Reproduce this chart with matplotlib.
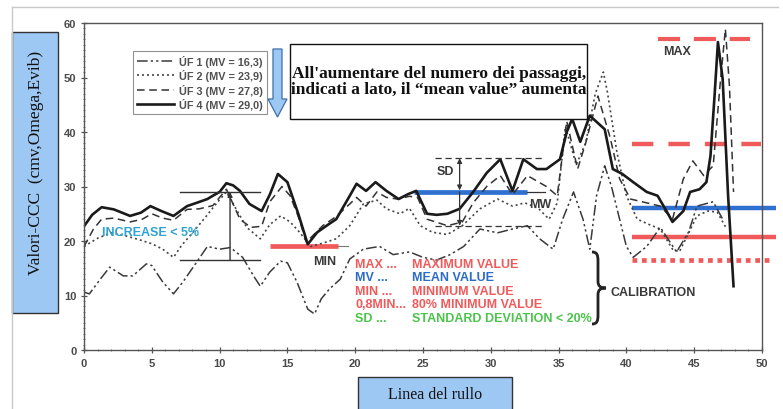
import matplotlib
matplotlib.use("Agg")
import matplotlib.pyplot as plt
import matplotlib.patches as mpatches
from matplotlib.path import Path
from matplotlib.lines import Line2D
from matplotlib.ticker import MultipleLocator

# ---------------- data ----------------
uf4_x = [0, 0.6, 1.3, 2.2, 3.4, 4.2, 4.9, 5.7, 6.6, 7.6, 8.3, 9.1, 9.5, 10.0, 10.5, 11.0, 11.5, 12.2,
         13.1, 13.7, 14.3, 15.0, 15.8, 16.5, 17.2, 18.0, 18.6, 19.6, 20.1, 20.8, 21.5, 22.3, 23.2, 23.9,
         24.5, 25.3, 26.0, 26.8, 27.7, 28.7, 29.7, 30.7, 31.6, 32.4, 33.4, 34.1, 35.1, 35.6, 36.0, 36.6,
         37.3, 38.4, 39.0, 39.7, 40.5, 41.5, 42.3, 43.0, 43.4, 44.2, 44.7, 45.4, 45.9, 46.2, 46.5, 46.75,
         47.1, 47.5, 47.9]
uf4_y = [22.7, 24.8, 26.2, 25.8, 24.6, 25.2, 26.4, 25.5, 24.6, 26.4, 27.0, 27.7, 28.3, 29.0, 30.6, 30.2,
         29.2, 26.8, 25.5, 28.5, 32.3, 30.8, 25.0, 19.4, 21.6, 23.0, 24.0, 28.3, 30.5, 29.2, 30.8, 29.2,
         27.7, 28.6, 29.2, 25.0, 24.8, 25.0, 25.9, 29.0, 32.5, 35.0, 29.2, 35.0, 33.2, 33.2, 35.0, 40.0,
         42.4, 38.2, 43.0, 40.5, 33.2, 32.3, 30.8, 29.0, 28.3, 25.3, 23.5, 25.5, 29.0, 29.5, 30.8, 35.6,
         46.6, 56.5, 49.7, 28.3, 11.7]

uf3_x = [0, 0.7, 1.3, 2.2, 3.4, 4.3, 5.0, 5.8, 6.6, 7.6, 8.5, 9.5, 10.5, 11.5, 12.3, 13.1, 13.7, 14.6,
         15.2, 15.8, 16.4, 17.6, 18.6, 19.6, 20.1, 20.8, 21.6, 22.3, 23.1, 24.0, 24.6, 25.3, 26.8, 27.9,
         28.7, 29.7, 30.7, 31.6, 32.7, 34.1, 34.9, 35.6, 36.4, 37.0, 37.9, 38.8, 39.5, 40.3, 41.5, 42.5,
         43.4, 44.2, 44.9, 45.7, 46.4, 46.9, 47.3, 47.6, 47.9]
uf3_y = [19.0, 22.2, 24.0, 24.2, 23.5, 24.0, 25.0, 24.2, 23.8, 25.8, 25.9, 26.5, 29.5, 24.0, 22.5, 22.7,
         27.2, 30.0, 28.3, 24.5, 19.8, 22.8, 24.5, 26.8, 28.0, 26.4, 29.0, 28.0, 27.7, 28.2, 28.0, 24.0,
         22.8, 23.5, 27.0, 30.0, 32.0, 28.5, 32.0, 30.0, 28.3, 42.0, 33.2, 38.0, 46.6, 39.0, 31.4, 27.7,
         27.0, 26.4, 24.0, 31.4, 34.7, 32.0, 33.8, 48.4, 58.9, 48.4, 29.0]

uf2_x = [0, 1.0, 2.0, 3.0, 4.0, 5.0, 5.8, 6.6, 7.2, 8.0, 9.0, 9.8, 10.5, 11.3, 12.0, 13.0, 13.7, 14.5,
         15.2, 15.9, 16.7, 17.6, 18.6, 19.6, 20.6, 21.6, 22.3, 23.3, 24.0, 24.8, 25.7, 26.8, 27.9, 29.2,
         30.5, 31.6, 32.5, 33.5, 34.3, 34.9, 35.5, 36.3, 37.0, 37.7, 38.3, 38.6, 39.3, 40.0, 40.8, 41.7,
         42.5, 43.4, 43.9, 44.5, 45.2, 46.0, 46.7, 47.4]
uf2_y = [19.0, 20.5, 21.5, 21.0, 20.3, 19.5, 18.5, 17.0, 19.2, 21.5, 24.5, 27.0, 29.0, 25.5, 22.5, 20.4,
         23.0, 24.6, 23.5, 21.6, 19.0, 19.6, 20.4, 22.8, 26.8, 27.5, 25.9, 25.0, 26.0, 22.8, 21.6, 21.2,
         22.8, 25.9, 27.7, 26.4, 27.0, 26.0, 24.0, 27.0, 41.0, 34.0, 38.0, 47.0, 51.0, 47.3, 36.3, 28.3,
         24.0, 23.0, 22.2, 18.5, 18.0, 21.0, 24.6, 25.5, 25.3, 22.2]

uf1_x = [0, 0.4, 1.2, 1.9, 2.9, 3.6, 4.6, 5.0, 5.8, 6.6, 7.3, 8.3, 9.1, 10.0, 10.8, 11.7, 12.5, 13.0,
         13.7, 14.5, 15.0, 15.7, 16.5, 17.0, 17.5, 18.1, 18.9, 19.6, 20.6, 21.3, 21.8, 22.8, 24.0, 25.0,
         26.0, 27.0, 28.0, 29.2, 30.5, 31.6, 32.7, 33.6, 34.6, 35.3, 36.1, 36.8, 37.3, 37.8, 38.4, 38.9,
         39.5, 40.0, 40.5, 41.5, 42.5, 43.7, 44.6, 45.2, 46.4, 47.1]
uf1_y = [10.6, 10.3, 13.0, 15.2, 13.6, 13.6, 15.8, 15.5, 12.5, 10.3, 12.5, 16.1, 19.0, 18.5, 18.8, 17.0,
         13.6, 11.7, 14.3, 16.3, 16.0, 12.5, 7.5, 6.6, 9.4, 11.2, 13.0, 16.7, 18.5, 18.8, 19.0, 17.5, 18.0,
         17.0, 16.5, 17.5, 19.0, 22.2, 21.5, 22.2, 22.8, 20.4, 18.5, 24.0, 29.0, 24.0, 18.5, 28.3, 33.8,
         30.0, 24.0, 19.0, 17.0, 19.0, 22.5, 18.0, 21.7, 26.4, 27.2, 24.0]

series_labels = ["ÚF 1 (MV = 16,3)", "ÚF 2 (MV = 23,9)", "ÚF 3 (MV = 27,8)", "ÚF 4 (MV = 29,0)"]

x_ticks = [0, 5, 10, 15, 20, 25, 30, 35, 40, 45, 50]
y_ticks = [0, 10, 20, 30, 40, 50, 60]

# reference levels (calibration, right part)
cal_max, cal_high, cal_mv, cal_min, cal_min08 = 57.0, 37.8, 26.0, 20.7, 16.5
# middle MV / SD
mid_mv, sd_top, sd_bot = 29.0, 35.2, 22.8
# MIN marker
min_level = 19.1
# increase marker
inc_top, inc_bot = 29.0, 16.5

legend_rows = [("MAX ...", "MAXIMUM VALUE", "#f05a5a"),
               ("MV ...", "MEAN VALUE", "#2a6cc6"),
               ("MIN ...", "MINIMUM VALUE", "#f05a5a"),
               ("0,8MIN...", "80% MINIMUM VALUE", "#f05a5a"),
               ("SD ...", "STANDARD DEVIATION < 20%", "#4cc34c")]

# ---------------- figure ----------------
W, H = 783, 410
fig = plt.figure(figsize=(W / 100, H / 100), dpi=100)
fig.patch.set_facecolor("white")


def P(px, py):
    return (px / W, 1 - py / H)


ax = fig.add_axes([84 / W, 1 - 351 / H, 678 / W, 327 / H])
ax.set_xlim(0, 50)
ax.set_ylim(0, 60)
ax.set_facecolor("white")

l1, = ax.plot(uf1_x, uf1_y, color="#3a3a3a", lw=1.1, dashes=(7, 2, 1.5, 2, 1.5, 2))
l2, = ax.plot(uf2_x, uf2_y, color="#444444", lw=1.2, dashes=(1.2, 1.8))
l3, = ax.plot(uf3_x, uf3_y, color="#333333", lw=1.1, dashes=(5, 3))
l4, = ax.plot(uf4_x, uf4_y, color="#1a1a1a", lw=1.9, solid_joinstyle="round")

for s in ax.spines.values():
    s.set_color("#555555")
    s.set_linewidth(1.0)
ax.set_xticks(x_ticks)
ax.set_yticks(y_ticks)
ax.xaxis.set_minor_locator(MultipleLocator(1))
ax.yaxis.set_minor_locator(MultipleLocator(1))
ax.tick_params(which="major", direction="inout", length=4, width=0.9, color="#555555",
               labelsize=8, labelcolor="#4a4a4a")
ax.tick_params(which="minor", direction="inout", length=2, width=0.6, color="#666666")
ax.tick_params(axis="x", pad=4)
for lab in ax.get_xticklabels() + ax.get_yticklabels():
    lab.set_fontweight("bold")
    lab.set_family("Liberation Sans")

leg = ax.legend([l1, l2, l3, l4], series_labels, loc="upper left",
                bbox_to_anchor=P(133, 52), bbox_transform=fig.transFigure, borderaxespad=0,
                frameon=True, fancybox=False, edgecolor="#777777", handlelength=3.4,
                handletextpad=0.5, labelspacing=0.22, borderpad=0.35,
                prop={"size": 7.8, "weight": "bold", "family": "Liberation Sans"})
leg.get_frame().set_linewidth(0.8)
for t in leg.get_texts():
    t.set_color("#505050")

# ---------------- reference lines ----------------
red = "#f05a5a"
blue = "#2e6fd0"
ax.plot([42.3, 49.1], [cal_max, cal_max], color=red, lw=3, dashes=(5.3, 3.3), clip_on=False, zorder=1)
ax.plot([40.4, 49.9], [cal_high, cal_high], color=red, lw=3.2, dashes=(4.8, 3.4), clip_on=False, zorder=1)
ax.plot([40.4, 51.0], [cal_mv, cal_mv], color=blue, lw=3.2, solid_capstyle="butt", clip_on=False, zorder=1)
ax.plot([40.4, 51.0], [cal_min, cal_min], color=red, lw=3.2, solid_capstyle="butt", clip_on=False, zorder=1)
ax.plot([40.4, 50.7], [cal_min08, cal_min08], color=red, lw=3.4, dashes=(1, 1), clip_on=False, zorder=1)

ax.plot([24.3, 32.7], [mid_mv, mid_mv], color=blue, lw=3.4, solid_capstyle="butt", zorder=1)
ax.plot([32.7, 34.0], [mid_mv, mid_mv], color="#333333", lw=0.9, zorder=1)
ax.plot([25.9, 34.0], [sd_top, sd_top], color="#333333", lw=0.9, dashes=(5, 3))
ax.plot([25.9, 34.0], [sd_bot, sd_bot], color="#333333", lw=0.9, dashes=(5, 3))
ax.annotate("", xy=(27.7, sd_top), xytext=(27.7, mid_mv + 0.3),
            arrowprops=dict(arrowstyle="<|-|>", color="#333333", lw=0.9, mutation_scale=7,
                            shrinkA=0, shrinkB=0))
ax.annotate("", xy=(27.7, sd_bot), xytext=(27.7, mid_mv),
            arrowprops=dict(arrowstyle="-|>", color="#333333", lw=0.9, mutation_scale=7,
                            shrinkA=0, shrinkB=0))

ax.plot([13.7, 18.7], [min_level, min_level], color=red, lw=3.4, solid_capstyle="butt", zorder=1)
ax.plot([18.7, 19.5], [min_level, min_level], color="#777777", lw=0.8, zorder=1)

ax.plot([7.1, 13.0], [inc_top, inc_top], color="#333333", lw=1.0)
ax.plot([7.1, 13.0], [inc_bot, inc_bot], color="#333333", lw=1.0)
ax.annotate("", xy=(10.77, inc_top), xytext=(10.77, inc_bot),
            arrowprops=dict(arrowstyle="-|>", color="#333333", lw=1.0, mutation_scale=7,
                            shrinkA=0, shrinkB=0))

tfont = dict(family="Liberation Sans", weight="bold", fontsize=9)
ax.text(1.3, 21.6, "INCREASE < 5%", color="#2ea3d3", va="center", ha="left", **tfont)
ax.text(16.9, 16.3, "MIN", color="#3a3a3a", va="center", ha="left", **tfont)
ax.text(26.0, 32.8, "SD", color="#3a3a3a", va="center", ha="left", **tfont)
ax.text(32.8, 26.8, "MW", color="#3a3a3a", va="center", ha="left", **tfont)
ax.text(42.7, 54.9, "MAX", color="#3a3a3a", va="center", ha="left", **tfont)
ax.text(38.8, 10.6, "CALIBRATION", color="#3a3a3a", va="center", ha="left", **tfont)

row_y = [15.8, 13.4, 10.9, 8.4, 5.9]
for (a, b, c), yy in zip(legend_rows, row_y):
    ax.text(20.0, yy, a, color=c, va="center", ha="left", **tfont)
    ax.text(24.2, yy, b, color=c, va="center", ha="left", **tfont)

# curly brace (figure pixel coordinates)
def brace_path(x0, xm, xt, top, bot):
    mid = (top + bot) / 2
    pts = [(x0, top), (xm - 1, top), (xm, top + 3), (xm, top + 9),
           (xm, mid - 7), (xm, mid - 2), (xm + 2, mid), (xt, mid),
           (xm + 2, mid), (xm, mid + 2), (xm, mid + 7),
           (xm, bot - 9), (xm, bot - 3), (xm - 1, bot), (x0, bot)]
    codes = [Path.MOVETO, Path.CURVE4, Path.CURVE4, Path.CURVE4,
             Path.LINETO, Path.CURVE4, Path.CURVE4, Path.CURVE4,
             Path.CURVE4, Path.CURVE4, Path.CURVE4,
             Path.LINETO, Path.CURVE4, Path.CURVE4, Path.CURVE4]
    return Path([P(*p) for p in pts], codes)

fig.patches.append(mpatches.PathPatch(brace_path(592, 598, 606, 253, 325), transform=fig.transFigure,
                                      fill=False, lw=2.0, edgecolor="#222222"))

# ---------------- decorations in figure space ----------------
fig.add_artist(Line2D([12 / W, 12 / W], [1 - 8 / H, 0], color="#c8c8c8", lw=1.0))
fig.add_artist(Line2D([12 / W, 778 / W], [1 - 8 / H, 1 - 8 / H], color="#c8c8c8", lw=1.0))

# y label box
fig.patches.append(mpatches.Rectangle(P(12, 314), 46 / W, 281 / H, transform=fig.transFigure,
                                      facecolor="#9ec8f4", edgecolor="#333333", lw=1.0))
fig.text(*P(36, 163), "Valori-CCC  (cmv,Omega,Evib)", rotation=90, ha="center", va="center",
         family="Liberation Serif", fontsize=12.5, color="#111111")

# x label box
fig.patches.append(mpatches.Rectangle(P(358, 412), 154 / W, 34 / H, transform=fig.transFigure,
                                      facecolor="#9ec8f4", edgecolor="#333333", lw=1.0, clip_on=False))
fig.text(*P(435, 395), "Linea del rullo", ha="center", va="center",
         family="Liberation Serif", fontsize=11.5, color="#111111")

# blue down arrow
arrow_pts = [(273, 50), (282, 50), (282, 100), (287, 100), (277.5, 118), (268, 100), (273, 100)]
fig.patches.append(mpatches.Polygon([P(*p) for p in arrow_pts], closed=True, transform=fig.transFigure,
                                    facecolor="#9ec8f4", edgecolor="#3f6fa8", lw=0.9))

# note box
fig.patches.append(mpatches.Rectangle(P(290, 120), 297 / W, 75 / H, transform=fig.transFigure,
                                      facecolor="white", edgecolor="#111111", lw=1.0))
fig.text(*P(439, 82), "All'aumentare del numero dei passaggi,\nindicati a lato, il \u201cmean value\u201d aumenta",
         ha="center", va="center", family="Liberation Serif", weight="bold", fontsize=12.5,
         color="#111111", linespacing=1.05)

fig.savefig("out.png", dpi=100, facecolor="white")
